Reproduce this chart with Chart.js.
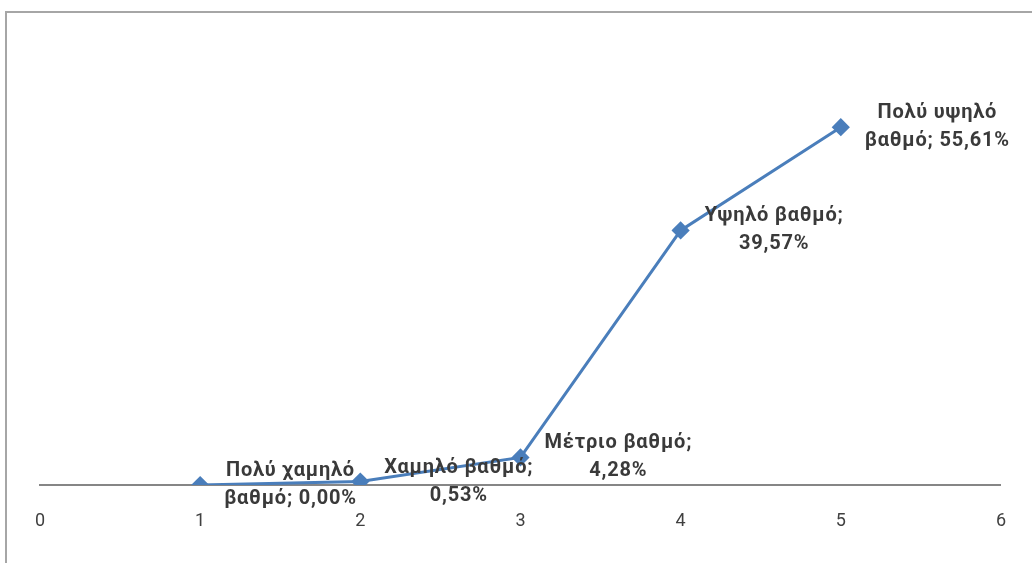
<!DOCTYPE html>
<html>
<head>
<meta charset="utf-8">
<script src="https://cdn.jsdelivr.net/npm/chart.js@4"></script>
<style>
  html, body { margin: 0; padding: 0; background: #fff; overflow: hidden; }
  #wrap { position: relative; width: 1032px; height: 563px; overflow: hidden; }
  canvas { display: block; }
  /* chart-area frame, runs off the right and bottom edges */
  #frame { position: absolute; left: 5px; top: 11px; width: 1100px; height: 640px;
           border: 2px solid #a6a6a6; pointer-events: none; }
</style>
</head>
<body>
<div id="wrap">
  <canvas id="c" width="1032" height="563"></canvas>
  <div id="frame"></div>
</div>
<script>
"use strict";

// levels on the x axis (1..5) and the share for each
const positions = [1, 2, 3, 4, 5];
const levels = ["Πολύ χαμηλό βαθμό", "Χαμηλό βαθμό", "Μέτριο βαθμό",
                "Υψηλό βαθμό", "Πολύ υψηλό βαθμό"];
const shares = [0.00, 0.53, 4.28, 39.57, 55.61];
const xTicks = [0, 1, 2, 3, 4, 5, 6];

const LINE = "#4a7ebb";
const INK = "#3a3a3a";
const FAMILY = "Roboto, 'Noto Sans', sans-serif";

const pct = (v) => v.toFixed(2).replace(".", ",") + "%";

/* greedy word wrap, Excel-style two-line labels */
function wrap(ctx, text, maxW) {
  const words = text.split(" "); const lines = []; let cur = "";
  words.forEach((w) => {
    const t = cur ? cur + " " + w : w;
    if (cur && ctx.measureText(t).width > maxW) { lines.push(cur); cur = w; }
    else cur = t;
  });
  if (cur) lines.push(cur);
  return lines;
}

const paper = {
  id: "paper",
  beforeDraw(chart) {
    const c = chart.ctx;
    c.save(); c.fillStyle = "#fff";
    c.fillRect(0, 0, chart.width, chart.height); c.restore();
  },
};

const valueLabels = {
  id: "valueLabels",
  afterDatasetsDraw(chart) {
    const c = chart.ctx;
    const pts = chart.getDatasetMeta(0).data;
    c.save();
    c.font = "bold 20px " + FAMILY; c.fillStyle = INK;
    c.letterSpacing = "0.8px";
    c.textAlign = "center"; c.textBaseline = "middle";
    pts.forEach((p, i) => {
      const lines = wrap(c, levels[i] + "; " + pct(shares[i]), 172);
      const w = Math.max(...lines.map((l) => c.measureText(l).width));
      const cx = p.x + 24 + w / 2;
      const lh = 28;
      const y0 = p.y - (lines.length - 1) * lh / 2;
      lines.forEach((l, k) => c.fillText(l, cx, y0 + k * lh));
    });
    c.restore();
  },
};

new Chart(document.getElementById("c"), {
  type: "line",
  data: {
    datasets: [{
      data: positions.map((x, i) => ({ x, y: shares[i] })),
      borderColor: LINE, backgroundColor: LINE,
      borderWidth: 3, tension: 0,
      pointStyle: "rectRot", pointRadius: 7, pointHoverRadius: 7,
    }],
  },
  options: {
    responsive: false, animation: false, devicePixelRatio: 1,
    layout: { padding: { left: 40, right: 29, top: 99, bottom: 0 } },
    plugins: { legend: { display: false }, tooltip: { enabled: false } },
    scales: {
      x: {
        type: "linear", min: 0, max: 6,
        afterBuildTicks: (s) => { s.ticks = xTicks.map((v) => ({ value: v })); },
        afterFit: (s) => { s.height = 78; },
        grid: { display: false, drawTicks: false },
        border: { display: true, color: "#868686", width: 2 },
        ticks: { padding: 26, color: "#404040", font: { family: FAMILY, size: 18 } },
      },
      y: { display: false, min: 0, max: 60 },
    },
  },
  plugins: [paper, valueLabels],
});
</script>
</body>
</html>
